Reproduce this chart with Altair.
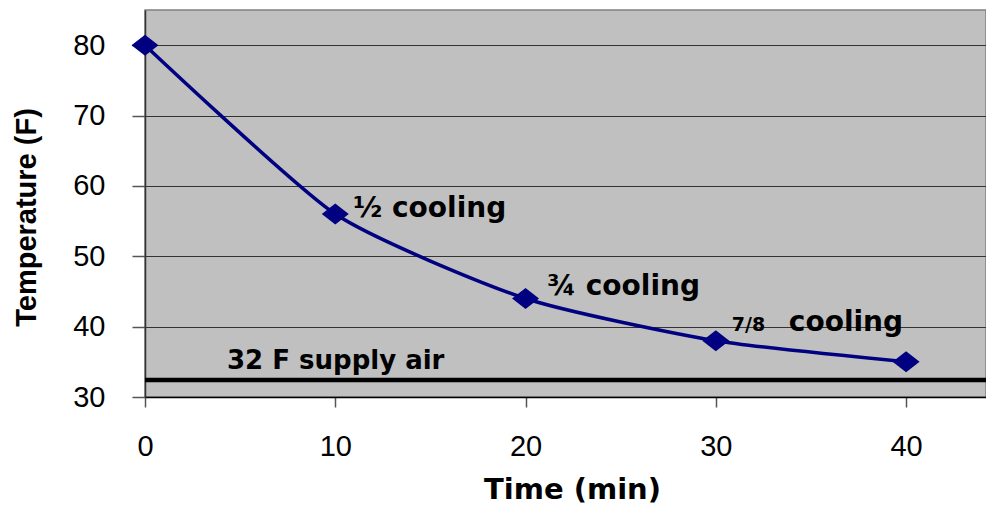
import altair as alt
import pandas as pd

# ---- data ----
time_min = [0, 10, 20, 30, 40]
temp_f = [80, 56, 44, 38, 35]
supply_temp = [32.4]
supply_label = "32 F supply air"
stage_times = [10, 20, 30, 30]
stage_labels = ["½ cooling", "¾ cooling", "7/8", "cooling"]
y_ticks = [30, 40, 50, 60, 70, 80]
x_ticks = [0, 10, 20, 30, 40]

pts = pd.DataFrame({"time": time_min, "temp": temp_f})
supply = pd.DataFrame({"time": [0], "temp": supply_temp, "label": [supply_label]})
stages = pd.DataFrame({"time": stage_times, "label": stage_labels})
stages = stages.merge(pts, on="time", how="left")

xs = alt.Scale(domain=[0, 44.2], nice=False, zero=False)
ys = alt.Scale(domain=[30, 85], nice=False, zero=False)

x_axis = alt.Axis(
    values=x_ticks, title="Time (min)", grid=False,
    domainColor="#000000", domainWidth=1.5,
    tickColor="#555555", tickSize=10, tickWidth=1.5,
    labelFont="Liberation Sans", labelFontSize=29, labelColor="#000000",
    labelPadding=25, labelFlush=False,
    titleFont="DejaVu Sans", titleFontSize=29, titleFontWeight="bold",
    titleColor="#000000", titleX=427, titleY=101,
    titleBaseline="alphabetic", titleAlign="center",
)
y_axis = alt.Axis(
    values=y_ticks, title="Temperature (F)", grid=True,
    gridColor="#333333", gridWidth=1,
    domainColor="#333333", domainWidth=1.5,
    tickColor="#555555", tickSize=13, tickWidth=1.5,
    labelFont="Liberation Sans", labelFontSize=29, labelColor="#000000",
    labelPadding=27,
    titleFont="Liberation Sans", titleFontSize=29, titleFontWeight="bold",
    titleColor="#000000", titleX=-119, titleY=207,
    titleBaseline="middle", titleAlign="center", titleAngle=270,
)

X = alt.X("time:Q", scale=xs, axis=x_axis, title="Time (min)")
Y = alt.Y("temp:Q", scale=ys, axis=y_axis, title="Temperature (F)")

line = alt.Chart(pts).mark_line(
    color="#000080", strokeWidth=3.5, interpolate="cardinal", tension=0.4
).encode(x=X, y=Y)

points = alt.Chart(pts).mark_point(
    shape="M-1,0L0,-0.78L1,0L0,0.78Z", filled=True, size=729,
    color="#000080", opacity=1,
).encode(x=X, y=Y)

supply_rule = alt.Chart(supply).mark_rule(color="#000000", strokeWidth=4.5).encode(
    y=Y,
)

supply_text = alt.Chart(supply).mark_text(
    align="left", baseline="alphabetic", dx=82, dy=-11,
    font="DejaVu Sans", fontSize=26, fontWeight="bold", color="#000000",
).encode(x=X, y=Y, text="label:N")

def stage_layer(label, dx, dy, size):
    return alt.Chart(stages).transform_filter(
        alt.datum.label == label
    ).mark_text(
        align="left", baseline="alphabetic", dx=dx, dy=dy,
        font="DejaVu Sans", fontSize=size, fontWeight="bold", color="#000000",
    ).encode(x=X, y=Y, text="label:N")

ann1 = stage_layer(stage_labels[0], 18, 2.5, 28)
ann2 = stage_layer(stage_labels[1], 21.5, -3, 28)
ann3 = stage_layer(stage_labels[2], 16, -10, 19)
ann4 = stage_layer(stage_labels[3], 73, -10, 28)

chart = alt.layer(
    line, supply_rule, points, supply_text, ann1, ann2, ann3, ann4
).properties(
    width=841, height=387,
    autosize=alt.AutoSizeParams(type="none"),
    padding={"left": 137, "top": 2, "right": 0, "bottom": 109},
    background="#FFFFFF",
).configure_view(
    fill="#C0C0C0", stroke="#808080", strokeWidth=1.5,
)

chart.save("out.html", embed_options={"renderer": "svg", "actions": False})
